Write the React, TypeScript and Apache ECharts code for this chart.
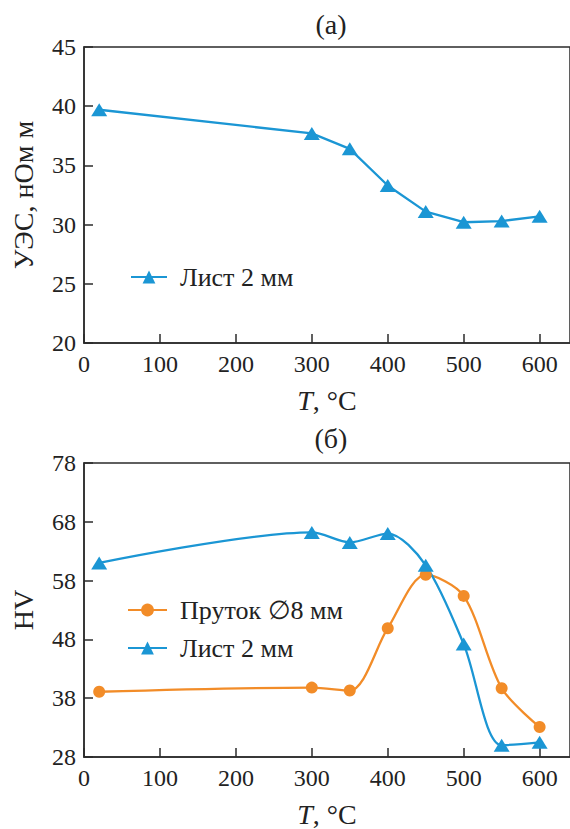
import React, { useEffect, useRef } from "react";
import * as echarts from "echarts";

const temps = [20, 300, 350, 400, 450, 500, 550, 600];
const resistSheet = [39.7, 37.7, 36.4, 33.3, 31.1, 30.2, 30.3, 30.7];
const hvSheet = [61.0, 66.2, 64.5, 66.0, 60.6, 47.2, 30.0, 30.5];
const hvRod = [39.1, 39.8, 39.3, 49.9, 59.0, 55.4, 39.7, 33.1];

const BLUE = "#1b96d4";
const ORANGE = "#f28c28";
const AX = "#2b2b2b";
const FONT = "Liberation Serif";
const FS = 24;
const NFS = 28;

const pairs = (ys: number[]) => temps.map((t, i) => [t, ys[i]]);

export default function App() {
  const ref = useRef<HTMLDivElement>(null);
  useEffect(() => {
    if (!ref.current) return;
    const chart = echarts.init(ref.current, undefined, { renderer: "svg" });
    const xAxisBase = (gridIndex: number) => ({
      type: "value" as const,
      gridIndex,
      min: 0,
      max: 640,
      interval: 100,
      name: "{i|T}, °C",
      nameLocation: "middle" as const,
      nameGap: 43,
      nameTextStyle: {
        fontFamily: FONT,
        fontSize: NFS,
        color: "#222",
        rich: { i: { fontStyle: "italic", fontFamily: FONT, fontSize: NFS, color: "#222" } },
      },
      axisLine: { show: true, onZero: false, lineStyle: { color: AX, width: 1.5 } },
      axisTick: { show: true, inside: true, length: 9, lineStyle: { color: AX, width: 1.5 } },
      axisLabel: { fontFamily: FONT, fontSize: FS, color: "#222", margin: 9, showMaxLabel: false },
      splitLine: { show: false },
    });
    const yAxisBase = (gridIndex: number, min: number, max: number, interval: number, name: string, gap: number) => ({
      type: "value" as const,
      gridIndex,
      min,
      max,
      interval,
      name,
      nameLocation: "middle" as const,
      nameGap: gap,
      nameTextStyle: { fontFamily: FONT, fontSize: NFS, color: "#222" },
      axisLine: { show: true, lineStyle: { color: AX, width: 1.5 } },
      axisTick: { show: true, inside: true, length: 9, lineStyle: { color: AX, width: 1.5 } },
      axisLabel: { fontFamily: FONT, fontSize: FS, color: "#222", margin: 8 },
      splitLine: { show: false },
    });
    const legendText = { fontFamily: FONT, fontSize: 26, color: "#222", lineHeight: 28, padding: [0, 0, 0, 8] };
    chart.setOption({
      animation: false,
      backgroundColor: "#ffffff",
      title: [
        { text: "(а)", left: 331, top: 10, padding: 0, textAlign: "center", textStyle: { fontFamily: FONT, fontSize: NFS, fontWeight: "normal", color: "#222" } },
        { text: "(б)", left: 331, top: 424, padding: 0, textAlign: "center", textStyle: { fontFamily: FONT, fontSize: NFS, fontWeight: "normal", color: "#222" } },
      ],
      grid: [
        { left: 84, top: 47, width: 487.5, height: 296, show: true, borderColor: AX, borderWidth: 1.5, backgroundColor: "transparent" },
        { left: 84, top: 463, width: 487.5, height: 296, show: true, borderColor: AX, borderWidth: 1.5, backgroundColor: "transparent" },
      ],
      xAxis: [xAxisBase(0), xAxisBase(1)],
      yAxis: [
        yAxisBase(0, 20, 45, 5, "УЭС, нОм м", 47),
        yAxisBase(1, 28, 78, 10, "HV", 47),
      ],
      legend: [
        {
          left: 130,
          top: 263,
          padding: 0,
          itemWidth: 36,
          itemHeight: 16,
          data: [{ name: "Лист 2 мм" }],
          textStyle: legendText,
        },
        {
          left: 127,
          top: 596,
          padding: 0,
          orient: "vertical",
          itemGap: 10,
          itemWidth: 39,
          itemHeight: 16,
          data: [{ name: "Пруток ∅8 мм" }, { name: "Лист 2 мм " }],
          textStyle: legendText,
        },
      ],
      series: [
        {
          name: "Лист 2 мм",
          type: "line",
          xAxisIndex: 0,
          yAxisIndex: 0,
          data: pairs(resistSheet),
          symbol: "triangle",
          symbolSize: [16, 13],
          lineStyle: { color: BLUE, width: 2.3 },
          itemStyle: { color: BLUE },
        },
        {
          name: "Пруток ∅8 мм",
          type: "line",
          xAxisIndex: 1,
          yAxisIndex: 1,
          data: pairs(hvRod),
          smooth: 0.3,
          symbol: "circle",
          symbolSize: 12,
          lineStyle: { color: ORANGE, width: 2.3 },
          itemStyle: { color: ORANGE },
        },
        {
          name: "Лист 2 мм ",
          type: "line",
          xAxisIndex: 1,
          yAxisIndex: 1,
          data: pairs(hvSheet),
          smooth: 0.3,
          symbol: "triangle",
          symbolSize: [16, 13],
          lineStyle: { color: BLUE, width: 2.3 },
          itemStyle: { color: BLUE },
        },
      ],
    });
    return () => chart.dispose();
  }, []);
  return (
    <div
      ref={ref}
      style={{ position: "fixed", left: 0, top: 0, width: 570, height: 829, background: "#fff" }}
    />
  );
}
